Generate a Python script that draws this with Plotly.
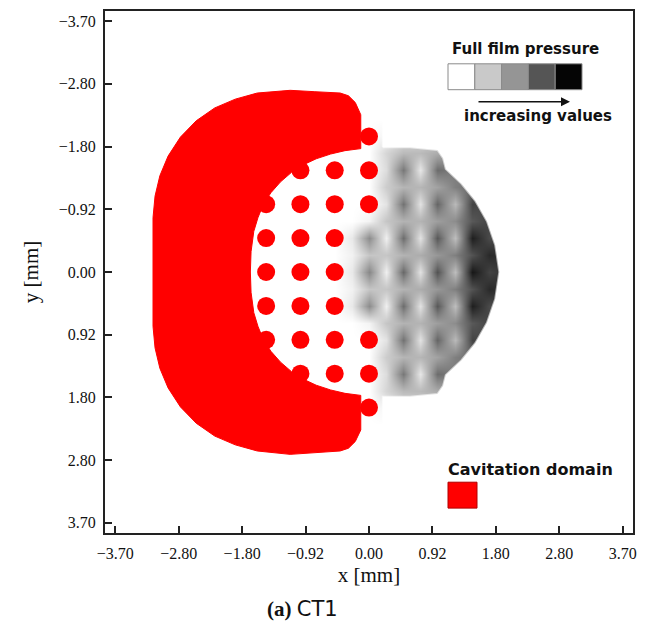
import numpy as np
import plotly.graph_objects as go

# ---------------- data ----------------
tick_labels = ["\u22123.70", "\u22122.80", "\u22121.80", "\u22120.92", "0.00",
               "0.92", "1.80", "2.80", "3.70"]

# cavitated dimples (red dots), mm
dot_x = [0.0,
         -1.0, -0.5, 0.0,
         -1.5, -1.0, -0.5, 0.0,
         -1.5, -1.0, -0.5,
         -1.5, -1.0, -0.5,
         -1.5, -1.0, -0.5,
         -1.5, -1.0, -0.5, 0.0,
         -1.0, -0.5, 0.0,
         0.0]
dot_y = [-2.0,
         -1.5, -1.5, -1.5,
         -1.0, -1.0, -1.0, -1.0,
         -0.5, -0.5, -0.5,
         0.0, 0.0, 0.0,
         0.5, 0.5, 0.5,
         1.0, 1.0, 1.0, 1.0,
         1.5, 1.5, 1.5,
         2.0]

# cavitation domain outline (C shape), mm
cav_x = [-0.12, -0.20, -0.30, -0.42, -0.80, -1.15, -1.63, -1.95, -2.25, -2.52,
         -2.75, -2.93, -3.05, -3.12, -3.15, -3.15, -3.12, -3.05, -2.93, -2.75,
         -2.52, -2.25, -1.95, -1.63, -1.15, -0.80, -0.42, -0.30, -0.20, -0.12,
         -0.12, -0.35, -0.56, -0.77, -0.96, -1.13, -1.29, -1.43, -1.54, -1.62,
         -1.68, -1.72, -1.73, -1.72, -1.68, -1.62, -1.54, -1.43, -1.29, -1.13,
         -0.96, -0.77, -0.56, -0.35, -0.12, -0.12]
cav_y = [-2.32, -2.50, -2.60, -2.64, -2.66, -2.68, -2.64, -2.55, -2.42, -2.23,
         -1.99, -1.71, -1.42, -1.12, -0.80, 0.80, 1.12, 1.42, 1.71, 1.99,
         2.23, 2.42, 2.55, 2.64, 2.69, 2.67, 2.64, 2.60, 2.50, 2.33,
         1.82, 1.79, 1.74, 1.67, 1.58, 1.47, 1.33, 1.17, 1.00, 0.80,
         0.60, 0.30, 0.00, -0.30, -0.60, -0.80, -1.00, -1.17, -1.33, -1.47,
         -1.58, -1.67, -1.74, -1.79, -1.82, -2.32]

# full film pressure (relative gray level 0 = white, 1 = black)
p_x = [-0.5, -0.25, 0.0, 0.25, 0.5, 0.75, 1.0, 1.25, 1.5, 1.75, 2.0, 2.25]
p_y = [-2.25, -2.0, -1.75, -1.5, -1.25, -1.0, -0.75, -0.5, -0.25, 0.0,
       0.25, 0.5, 0.75, 1.0, 1.25, 1.5, 1.75, 2.0, 2.25]
p_z = [
    [0, 0, 0, 0, 0, 0, 0, 0, 0, 0, 0, 0],
    [0, 0, 0, 0.05, 0.12, 0.15, 0.18, 0.12, 0, 0, 0, 0],
    [0, 0, 0, 0.18, 0.30, 0.30, 0.36, 0.45, 0, 0, 0, 0],
    [0, 0, 0, 0.15, 0.58, 0.10, 0.62, 0.55, 0.45, 0, 0, 0],
    [0, 0, 0, 0.22, 0.32, 0.32, 0.40, 0.55, 0.62, 0.35, 0, 0],
    [0, 0, 0, 0.12, 0.60, 0.12, 0.65, 0.30, 0.78, 0.72, 0.30, 0],
    [0, 0, 0.05, 0.25, 0.33, 0.33, 0.42, 0.50, 0.70, 0.78, 0.60, 0],
    [0, 0.10, 0.50, 0.06, 0.62, 0.12, 0.70, 0.28, 0.92, 0.75, 0.80, 0],
    [0, 0.06, 0.25, 0.25, 0.33, 0.36, 0.45, 0.55, 0.72, 0.88, 0.85, 0],
    [0, 0.10, 0.52, 0.06, 0.64, 0.12, 0.72, 0.28, 0.95, 0.78, 0.85, 0],
    [0, 0.06, 0.25, 0.25, 0.33, 0.36, 0.45, 0.55, 0.72, 0.88, 0.85, 0],
    [0, 0.10, 0.50, 0.06, 0.62, 0.12, 0.70, 0.28, 0.92, 0.75, 0.80, 0],
    [0, 0, 0.05, 0.25, 0.33, 0.33, 0.42, 0.50, 0.70, 0.78, 0.60, 0],
    [0, 0, 0, 0.12, 0.60, 0.12, 0.65, 0.30, 0.78, 0.72, 0.30, 0],
    [0, 0, 0, 0.22, 0.32, 0.32, 0.40, 0.55, 0.62, 0.35, 0, 0],
    [0, 0, 0, 0.15, 0.58, 0.10, 0.62, 0.55, 0.45, 0, 0, 0],
    [0, 0, 0, 0.18, 0.30, 0.30, 0.36, 0.45, 0, 0, 0, 0],
    [0, 0, 0, 0.05, 0.12, 0.15, 0.18, 0.12, 0, 0, 0, 0],
    [0, 0, 0, 0, 0, 0, 0, 0, 0, 0, 0, 0],
]

# outer edge of the full-film (pressure) region, mm
edge_x = [0.20, 0.60, 1.00, 1.08, 1.12, 1.35, 1.55, 1.72, 1.84, 1.90,
          1.84, 1.72, 1.55, 1.35, 1.12, 1.08, 1.00, 0.60, 0.20]
edge_y = [-1.84, -1.84, -1.80, -1.68, -1.52, -1.30, -1.05, -0.75, -0.40, 0.00,
          0.40, 0.75, 1.05, 1.30, 1.52, 1.68, 1.80, 1.84, 1.84]

legend_grays = ["#ffffff", "#c9c9c9", "#959595", "#555555", "#050505"]

# ---------------- figure ----------------
RED = "#ff0000"
SERIF = "Liberation Serif"
SANS = "DejaVu Sans"

OFF = 8                      # page body margin
W, H = 646 - 2 * OFF, 632 - 2 * OFF
PL, PR, PT, PB = 105, 633, 9, 533   # plot area in window pixels


def px(x):
    return (x - PL) / (PR - PL)


def py(y):
    return (PB - y) / (PB - PT)


fig = go.Figure()

fig.add_trace(go.Heatmap(
    x=p_x, y=p_y, z=p_z, zmin=0, zmax=1, zsmooth="best",
    colorscale=[[0, "#ffffff"], [0.5, "#8c8c8c"], [1, "#0a0a0a"]],
    showscale=False, hoverinfo="skip"))

# white surround outside the full-film edge
mask_x = edge_x + [edge_x[-1], 2.5, 2.5, edge_x[0], edge_x[0]]
mask_y = edge_y + [2.5, 2.5, -2.5, -2.5, edge_y[0]]
fig.add_trace(go.Scatter(
    x=mask_x, y=mask_y, mode="lines", fill="toself", fillcolor="white",
    line=dict(color="rgba(255,255,255,0.6)", width=2), hoverinfo="skip",
    showlegend=False))

fig.add_trace(go.Scatter(
    x=cav_x, y=cav_y, mode="lines", fill="toself", fillcolor=RED,
    line=dict(color=RED, width=1), hoverinfo="skip", showlegend=False))

fig.add_trace(go.Scatter(
    x=dot_x, y=dot_y, mode="markers",
    marker=dict(color=RED, size=18, line=dict(width=0)),
    hoverinfo="skip", showlegend=False))

tick_vals = np.linspace(-3.7, 3.7, len(tick_labels))
axis_common = dict(
    tickvals=tick_vals, ticktext=tick_labels, ticks="inside", ticklen=7,
    tickwidth=1.5, tickcolor="#222", showline=True, linecolor="#222",
    linewidth=2, mirror=True, showgrid=False, zeroline=False,
    tickfont=dict(family=SERIF, size=16, color="#111"),
)
fig.update_xaxes(range=[-3.85, 3.85], ticklabelstandoff=5,
                 title=dict(text="x [mm]", font=dict(family=SERIF, size=21, color="#111"),
                            standoff=6),
                 **axis_common)
fig.update_yaxes(range=[3.85, -3.85], ticklabelstandoff=4,
                 title=dict(text="y [mm]", font=dict(family=SERIF, size=21, color="#111"),
                            standoff=14),
                 **axis_common)

shapes = []
bx0, bx1, by0, by1 = 448, 582, 62, 88
bw = (bx1 - bx0) / len(legend_grays)
for i, c in enumerate(legend_grays):
    shapes.append(dict(type="rect", xref="paper", yref="paper",
                       x0=px(bx0 + i * bw), x1=px(bx0 + (i + 1) * bw),
                       y0=py(by1), y1=py(by0), fillcolor=c,
                       line=dict(color="#8a8a8a", width=1)))
shapes.append(dict(type="rect", xref="paper", yref="paper",
                   x0=px(448), x1=px(477), y0=py(508), y1=py(482),
                   fillcolor=RED, line=dict(color="#b00000", width=1)))

annotations = [
    dict(text="<b>Full film pressure</b>", x=px(525), y=py(47), xref="paper", yref="paper",
         xanchor="center", yanchor="middle",
         showarrow=False, font=dict(family=SANS, size=15, color="#111")),
    dict(text="<b>increasing values</b>", x=px(538), y=py(114), xref="paper", yref="paper",
         xanchor="center", yanchor="middle",
         showarrow=False, font=dict(family=SANS, size=15, color="#111")),
    dict(text="", x=px(570), y=py(100), xref="paper", yref="paper",
         ax=-93, ay=0, showarrow=True, arrowhead=2, arrowsize=1.2, arrowwidth=1.5,
         arrowcolor="#111"),
    dict(text="<b>Cavitation domain</b>", x=px(530), y=py(469), xref="paper", yref="paper",
         xanchor="center", yanchor="middle",
         showarrow=False, font=dict(family=SANS, size=16, color="#111")),
    dict(text="<b>(a)</b> <span style='font-family:DejaVu Sans'>CT1</span>",
         x=px(302), y=py(609), xref="paper", yref="paper",
         xanchor="center", yanchor="middle",
         showarrow=False, font=dict(family=SERIF, size=21, color="#111")),
]

fig.update_layout(
    width=W, height=H,
    margin=dict(l=PL - OFF, r=W - (PR - OFF), t=PT - OFF, b=H - (PB - OFF)),
    paper_bgcolor="white", plot_bgcolor="white", showlegend=False,
    shapes=shapes, annotations=annotations,
)

fig.write_html("out.html")
